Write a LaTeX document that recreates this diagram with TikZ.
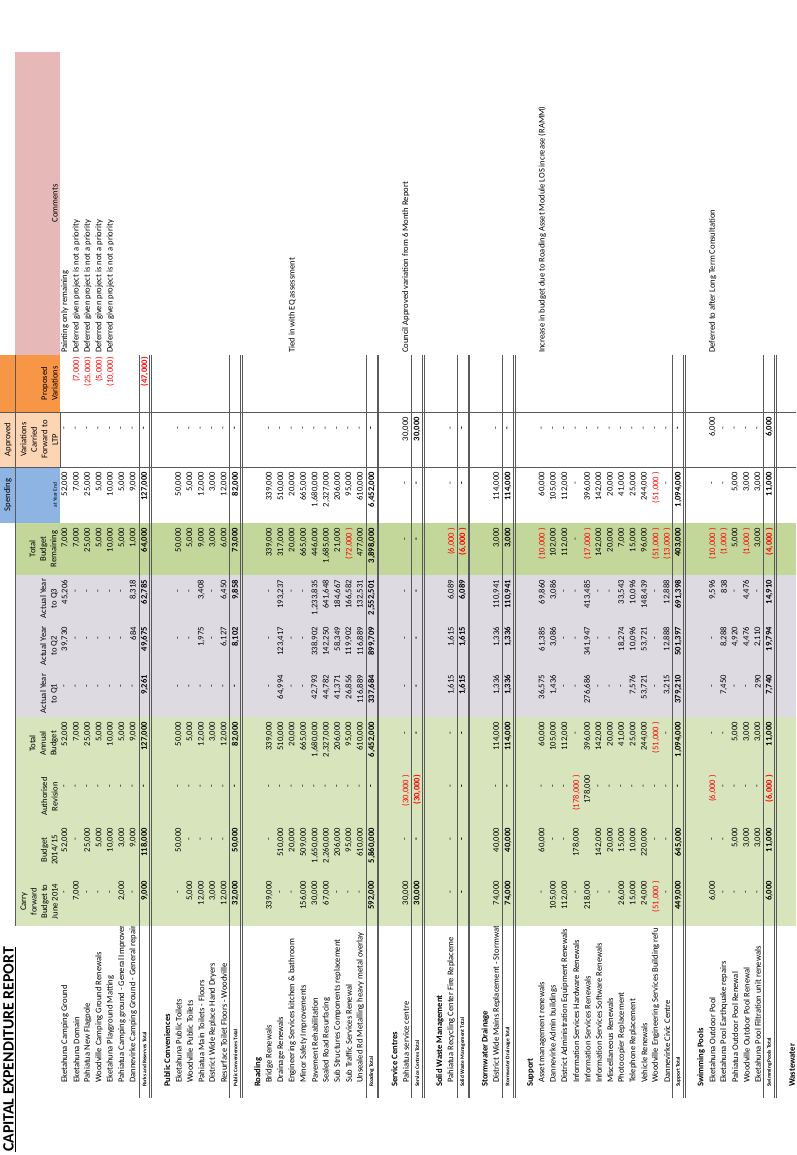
\documentclass[tikz,border=0pt]{standalone}
\usepackage{fontspec}
\setmainfont{Carlito}
\definecolor{budgetgreen}{HTML}{D8E4BC}
\definecolor{remaingreen}{HTML}{C4D79B}
\definecolor{actualgrey}{HTML}{DEDAE2}
\definecolor{spendblue}{HTML}{8DB4E2}
\definecolor{apprpeach}{HTML}{FCD5B4}
\definecolor{proporange}{HTML}{F79646}
\definecolor{commpink}{HTML}{E6B8B7}
\newcommand\dsh{-\kern10pt}
\newcommand\negv[1]{\textcolor{red}{(#1)}}
\begin{document}
\begin{tikzpicture}[x=1pt,y=-1pt,
  cell/.style={rotate=90,inner sep=0pt,font=\fontsize{8.6}{10}\selectfont},
  num/.style={cell,anchor=east},
  numb/.style={num,font=\fontsize{8.6}{10}\selectfont\bfseries},
  itemlabel/.style={cell,anchor=west},
  sectlabel/.style={cell,anchor=west,font=\fontsize{8.6}{10}\selectfont\bfseries},
  totlabel/.style={cell,anchor=west,font=\fontsize{5.4}{6}\selectfont\bfseries},
  hdr/.style={rotate=90,inner sep=0pt,anchor=south,align=center,font=\fontsize{8.6}{10.5}\selectfont},
  rule/.style={draw=black!65,line width=0.6pt}]
\useasboundingbox (0,0) rectangle (796,1155);
% colour bands
\fill[budgetgreen] (15,717) rectangle (796,926);
\fill[actualgrey] (15,575) rectangle (796,717);
\fill[remaingreen] (15,523) rectangle (796,575);
\fill[spendblue] (0,467) rectangle (60,523);
\fill[apprpeach] (0,412) rectangle (60,467);
\fill[proporange] (0,355) rectangle (60,412);
\fill[commpink] (15,52) rectangle (60,355);
% title
\node[rotate=90,anchor=base west,inner sep=0pt,font=\fontsize{15.8}{16}\selectfont\bfseries] (title) at (13.5,1152) {\underline{CAPITAL EXPENDITURE REPORT}};
% headings
\node[rotate=90,inner sep=0pt,font=\fontsize{8.6}{10}\selectfont] (spendtop) at (8,495) {Spending};
\node[rotate=90,inner sep=0pt,font=\fontsize{8.6}{10}\selectfont] (apprtop) at (8,439.5) {Approved};
\node[hdr,font=\fontsize{5.4}{6}\selectfont] (spendhdr) at (57,495) {at Year End};
\node[hdr] (comhdr) at (58,203.5) {Comments};
\node[hdr] (prophdr) at (58,383.5) {Proposed\\Variations};
\node[hdr] (apprhdr) at (58,439.5) {Variations\\Carried\\Forward to\\LTP};
\node[hdr] (remhdr) at (58,549) {Total\\Budget\\Remaining};
\node[hdr] (qchdr) at (58,598.5) {Actual Year\\to Q3};
\node[hdr] (qbhdr) at (58,646) {Actual Year\\to Q2};
\node[hdr] (qahdr) at (58,693.5) {Actual Year\\to Q1};
\node[hdr] (tahdr) at (58,743.5) {Total\\Annual\\Budget};
\node[hdr] (auhdr) at (58,796.5) {Authorised\\Revision};
\node[hdr] (buhdr) at (58,850) {Budget\\2014/15};
\node[hdr] (cahdr) at (58,901.5) {Carry\\forward\\Budget to\\June 2014};
% grid lines
\draw[rule] (15,355) -- (15,926);
\draw[rule] (60,412) -- (60,467);
\draw[rule] (0,412) -- (796,412);
\draw[rule] (0,467) -- (796,467);
% section headings
\foreach \k/\nm in {9/Public Conveniences,17/Roading,29/Service Centres,33/Solid Waste Management,
  37/Stormwater Drainage,41/Support,56/Swimming Pools,64/Wastewater}{
  \pgfmathsetmacro\rx{65+11.36*\k}
  \node[sectlabel] at (\rx,1087) {\nm};
}
% item rows
\foreach \k/\nm/\vca/\vbu/\vau/\vta/\vqa/\vqb/\vqc/\vtb/\vsp/\vap/\vpr/\vcm in {
  0/Eketahuna Camping Ground/\dsh/{52,000}/\dsh/{52,000}/\dsh/{39,730}/{45,206}/{7,000}/{52,000}/\dsh/{}/Painting only remaining,
  1/Eketahuna Domain/{7,000}/\dsh/\dsh/{7,000}/\dsh/\dsh/\dsh/{7,000}/{7,000}/\dsh/{\negv{7,000}}/Deferred given project is not a priority,
  2/Pahiatua New Flagpole/\dsh/{25,000}/\dsh/{25,000}/\dsh/\dsh/\dsh/{25,000}/{25,000}/\dsh/{\negv{25,000}}/Deferred given project is not a priority,
  3/Woodville Camping Ground Renewals/\dsh/{5,000}/\dsh/{5,000}/\dsh/\dsh/\dsh/{5,000}/{5,000}/\dsh/{\negv{5,000}}/Deferred given project is not a priority,
  4/Eketahuna Playground Matting/\dsh/{10,000}/\dsh/{10,000}/\dsh/\dsh/\dsh/{10,000}/{10,000}/\dsh/{\negv{10,000}}/Deferred given project is not a priority,
  5/Pahiatua Camping ground - General Improver/{2,000}/{3,000}/\dsh/{5,000}/\dsh/\dsh/\dsh/{5,000}/{5,000}/\dsh/{}/{},
  6/Dannevirke Camping Ground - General repair/\dsh/{9,000}/\dsh/{9,000}/\dsh/{684}/{8,318}/{1,000}/{9,000}/\dsh/{}/{},
  10/Eketahuna Public Toilets/\dsh/{50,000}/\dsh/{50,000}/\dsh/\dsh/\dsh/{50,000}/{50,000}/\dsh/{}/{},
  11/Woodville Public Toilets/{5,000}/\dsh/\dsh/{5,000}/\dsh/\dsh/\dsh/{5,000}/{5,000}/\dsh/{}/{},
  12/Pahiatua Main Toilets - Floors/{12,000}/\dsh/\dsh/{12,000}/\dsh/{1,975}/{3,408}/{9,000}/{12,000}/\dsh/{}/{},
  13/District Wide Replace Hand Dryers/{3,000}/\dsh/\dsh/{3,000}/\dsh/\dsh/\dsh/{3,000}/{3,000}/\dsh/{}/{},
  14/Resurface Toilet Floors - Woodville/{12,000}/\dsh/\dsh/{12,000}/\dsh/{6,127}/{6,450}/{6,000}/{12,000}/\dsh/{}/{},
  18/Bridge Renewals/{339,000}/\dsh/\dsh/{339,000}/\dsh/\dsh/\dsh/{339,000}/{339,000}/\dsh/{}/{},
  19/Drainage Renewals/\dsh/{510,000}/\dsh/{510,000}/{64,994}/{123,417}/{193,237}/{317,000}/{510,000}/\dsh/{}/{},
  20/Engineering Services kitchen \& bathroom/\dsh/{20,000}/\dsh/{20,000}/\dsh/\dsh/\dsh/{20,000}/{20,000}/\dsh/{}/Tied in with EQ assessment,
  21/Minor Safety Improvements/{156,000}/{509,000}/\dsh/{665,000}/\dsh/\dsh/\dsh/{665,000}/{665,000}/\dsh/{}/{},
  22/Pavement Rehabilitation/{30,000}/{1,650,000}/\dsh/{1,680,000}/{42,793}/{338,902}/{1,233,835}/{446,000}/{1,680,000}/\dsh/{}/{},
  23/Sealed Road Resurfacing/{67,000}/{2,260,000}/\dsh/{2,327,000}/{44,782}/{142,250}/{641,648}/{1,685,000}/{2,327,000}/\dsh/{}/{},
  24/Sub Structures Components replacement/\dsh/{206,000}/\dsh/{206,000}/{41,371}/{58,349}/{184,667}/{21,000}/{206,000}/\dsh/{}/{},
  25/Sub Traffic Services Renewal/\dsh/{95,000}/\dsh/{95,000}/{26,856}/{119,902}/{166,582}/{\negv{72,000 }}/{95,000}/\dsh/{}/{},
  26/Unsealed Rd Metalling heavy metal overlay/\dsh/{610,000}/\dsh/{610,000}/{116,889}/{116,889}/{132,531}/{477,000}/{610,000}/\dsh/{}/{},
  30/Pahiatua service centre/{30,000}/\dsh/{\negv{30,000 }}/\dsh/\dsh/\dsh/\dsh/\dsh/\dsh/{30,000}/{}/Council Approved variation from 6 Month Report,
  34/Pahiatua Recycling Center Fire Replaceme/\dsh/\dsh/\dsh/\dsh/{1,615}/{1,615}/{6,089}/{\negv{6,000 }}/\dsh/\dsh/{}/{},
  38/District Wide Mains Replacement - Stormwat/{74,000}/{40,000}/\dsh/{114,000}/{1,336}/{1,336}/{110,941}/{3,000}/{114,000}/\dsh/{}/{},
  42/Asset management renewals/\dsh/{60,000}/\dsh/{60,000}/{36,575}/{61,385}/{69,860}/{\negv{10,000 }}/{60,000}/\dsh/{}/Increase in budget due to Roading Asset Module LOS increase (RAMM),
  43/Dannevirke Admin buildings/{105,000}/\dsh/\dsh/{105,000}/{1,436}/{3,086}/{3,086}/{102,000}/{105,000}/\dsh/{}/{},
  44/District Administration Equipment Renewals/{112,000}/\dsh/\dsh/{112,000}/\dsh/\dsh/\dsh/{112,000}/{112,000}/\dsh/{}/{},
  45/Information Services Hardware Renewals/\dsh/{178,000}/{\negv{178,000 }}/\dsh/\dsh/\dsh/\dsh/\dsh/\dsh/\dsh/{}/{},
  46/Information Services Renewals/{218,000}/{}/{178,000}/{396,000}/{276,686}/{341,947}/{413,485}/{\negv{17,000 }}/{396,000}/\dsh/{}/{},
  47/Information Services Software Renewals/\dsh/{142,000}/\dsh/{142,000}/\dsh/\dsh/\dsh/{142,000}/{142,000}/\dsh/{}/{},
  48/Miscellaneous Renewals/\dsh/{20,000}/\dsh/{20,000}/\dsh/\dsh/\dsh/{20,000}/{20,000}/\dsh/{}/{},
  49/Photocopier Replacement/{26,000}/{15,000}/\dsh/{41,000}/\dsh/{18,274}/{33,543}/{7,000}/{41,000}/\dsh/{}/{},
  50/Telephone Replacement/{15,000}/{10,000}/\dsh/{25,000}/{7,576}/{10,096}/{10,096}/{15,000}/{25,000}/\dsh/{}/{},
  51/Vehicle Renewals/{24,000}/{220,000}/\dsh/{244,000}/{53,721}/{53,721}/{148,439}/{96,000}/{244,000}/\dsh/{}/{},
  52/Woodville Engineering Services Building refu/{\negv{51,000 }}/\dsh/\dsh/{\negv{51,000 }}/\dsh/\dsh/\dsh/{\negv{51,000 }}/{\negv{51,000 }}/\dsh/{}/{},
  53/Dannevirke Civic Centre/\dsh/\dsh/\dsh/\dsh/{3,215}/{12,888}/{12,888}/{\negv{13,000 }}/\dsh/\dsh/{}/{},
  57/Eketahuna Outdoor Pool/{6,000}/\dsh/{\negv{6,000 }}/\dsh/\dsh/\dsh/{9,596}/{\negv{10,000 }}/\dsh/{6,000}/{}/Deferred to after Long Term Consultation,
  58/Eketahuna Pool Earthquake repairs/\dsh/\dsh/\dsh/\dsh/{7,450}/{8,288}/{838}/{\negv{1,000 }}/\dsh/\dsh/{}/{},
  59/Pahiatua Outdoor Pool Renewal/\dsh/{5,000}/\dsh/{5,000}/\dsh/{4,920}/\dsh/{5,000}/{5,000}/\dsh/{}/{},
  60/Woodville Outdoor Pool Renewal/\dsh/{3,000}/\dsh/{3,000}/\dsh/{4,476}/{4,476}/{\negv{1,000 }}/{3,000}/\dsh/{}/{},
  61/Eketahuna Pool Filtration unit renewals/\dsh/{3,000}/\dsh/{3,000}/{290}/{2,110}/\dsh/{3,000}/{3,000}/\dsh/{}/{}}{
  \pgfmathsetmacro\rx{65+11.36*\k}
  \begin{scope}
    \clip (\rx-6,926) rectangle (\rx+6,1100);
    \node[itemlabel] at (\rx,1083) {\nm};
  \end{scope}
  \node[num] at (\rx,881) {\vca};
  \node[num] at (\rx,828) {\vbu};
  \node[num] at (\rx,775) {\vau};
  \node[num] at (\rx,722) {\vta};
  \node[num] at (\rx,675) {\vqa};
  \node[num] at (\rx,627) {\vqb};
  \node[num] at (\rx,580) {\vqc};
  \node[num] at (\rx,528) {\vtb};
  \node[num] at (\rx,472) {\vsp};
  \node[num] at (\rx,417) {\vap};
  \node[num] at (\rx,357) {\vpr};
  \node[itemlabel] at (\rx,353) {\vcm};
}
% total rows
\foreach \k/\nm/\vca/\vbu/\vau/\vta/\vqa/\vqb/\vqc/\vtb/\vsp/\vap/\vpr in {
  7/Parks and Reserves Total/{9,000}/{118,000}/\dsh/{127,000}/{9,261}/{49,675}/{62,785}/{64,000}/{127,000}/\dsh/{\negv{47,000}},
  15/Public Conveniences Total/{32,000}/{50,000}/\dsh/{82,000}/\dsh/{8,102}/{9,858}/{73,000}/{82,000}/\dsh/{},
  27/Roading Total/{592,000}/{5,860,000}/\dsh/{6,452,000}/{337,684}/{899,709}/{2,552,501}/{3,898,000}/{6,452,000}/\dsh/{},
  31/Service Centres Total/{30,000}/\dsh/{\negv{30,000}}/\dsh/\dsh/\dsh/\dsh/\dsh/\dsh/{30,000}/{},
  35/Solid Waste Management Total/\dsh/\dsh/\dsh/\dsh/{1,615}/{1,615}/{6,089}/{\negv{6,000 }}/\dsh/\dsh/{},
  39/Stormwater Drainage Total/{74,000}/{40,000}/\dsh/{114,000}/{1,336}/{1,336}/{110,941}/{3,000}/{114,000}/\dsh/{},
  54/Support Total/{449,000}/{645,000}/\dsh/{1,094,000}/{379,210}/{501,397}/{691,398}/{403,000}/{1,094,000}/\dsh/{},
  62/Swimming Pools Total/{6,000}/{11,000}/{\negv{6,000 }}/{11,000}/{7,740}/{19,794}/{14,910}/{\negv{4,000 }}/{11,000}/{6,000}/{}}{
  \pgfmathsetmacro\rx{65+11.36*\k}
  \draw[rule] (\rx-5.7,355) -- (\rx-5.7,1098);
  \draw[rule] (\rx+5.2,355) -- (\rx+5.2,1098);
  \draw[rule] (\rx+6.8,355) -- (\rx+6.8,1098);
  \node[totlabel] at (\rx,1087) {\nm};
  \node[numb] at (\rx,881) {\vca};
  \node[numb] at (\rx,828) {\vbu};
  \node[numb] at (\rx,775) {\vau};
  \node[numb] at (\rx,722) {\vta};
  \node[numb] at (\rx,675) {\vqa};
  \node[numb] at (\rx,627) {\vqb};
  \node[numb] at (\rx,580) {\vqc};
  \node[numb] at (\rx,528) {\vtb};
  \node[numb] at (\rx,472) {\vsp};
  \node[numb] at (\rx,417) {\vap};
  \node[numb] at (\rx,357) {\vpr};
}
\end{tikzpicture}
\end{document}
